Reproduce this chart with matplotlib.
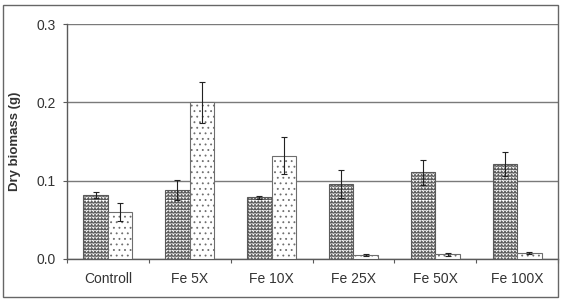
import warnings
import numpy as np
import matplotlib as mpl
mpl.use("Agg")
import matplotlib.pyplot as plt
from matplotlib import hatch as mhatch
from matplotlib.path import Path
from matplotlib.patches import Rectangle

warnings.filterwarnings("ignore")

# =============================================================================
# Data
# =============================================================================
categories = ["Controll", "Fe 5X", "Fe 10X", "Fe 25X", "Fe 50X", "Fe 100X"]
dark_vals = [0.082, 0.088, 0.079, 0.096, 0.111, 0.121]
dark_err = [0.004, 0.013, 0.002, 0.018, 0.016, 0.015]
light_vals = [0.060, 0.200, 0.132, 0.005, 0.006, 0.008]
light_err = [0.012, 0.026, 0.024, 0.001, 0.002, 0.001]
yticks = [0.0, 0.1, 0.2, 0.3]


# =============================================================================
# Zigzag hatch ('z') to mimic the wavy fill
# =============================================================================
class ZigzagHatch(mhatch.HatchPatternBase):
    ROWS = 30
    TEETH = 30

    def __init__(self, hatch, density):
        self.on = hatch.count("z") > 0
        self.num_vertices = self.ROWS * (2 * self.TEETH + 1) if self.on else 0

    def set_vertices_and_codes(self, vertices, codes):
        per_row = 2 * self.TEETH + 1
        xs = np.linspace(0, 1, per_row)
        amp = 0.75 / self.ROWS
        for i in range(self.ROWS):
            y0 = i / self.ROWS
            ys = y0 + np.where(np.arange(per_row) % 2 == 1, amp, 0.0)
            sl = slice(i * per_row, (i + 1) * per_row)
            vertices[sl, 0] = xs
            vertices[sl, 1] = ys
            codes[sl] = Path.LINETO
            codes[i * per_row] = Path.MOVETO


mhatch._hatch_types.append(ZigzagHatch)

# =============================================================================
# Style
# =============================================================================
mpl.rcParams["font.family"] = ["Liberation Sans", "DejaVu Sans"]
mpl.rcParams["hatch.linewidth"] = 0.6
TXT = "#333333"
GRID = "#7a7a7a"
EDGE = "#5a5a5a"
FS = 10

W, H = 565, 302
fig = plt.figure(figsize=(W / 100, H / 100), dpi=100)
ax = fig.add_axes([67 / W, 43 / H, 491 / W, 235 / H])

x = np.arange(len(categories))
bw = 0.3

ax.bar(x - bw / 2, dark_vals, bw, color="white", edgecolor=EDGE,
       hatch="z", linewidth=0.8, zorder=3)
ax.bar(x + bw / 2, light_vals, bw, color="white", edgecolor="#6e6e6e",
       hatch="...", linewidth=0.8, zorder=3)
ax.errorbar(x - bw / 2, dark_vals, yerr=dark_err, fmt="none", ecolor="#222222",
            elinewidth=0.8, capsize=2.2, capthick=0.8, zorder=4)
ax.errorbar(x + bw / 2, light_vals, yerr=light_err, fmt="none", ecolor="#222222",
            elinewidth=0.8, capsize=2.2, capthick=0.8, zorder=4)

# =============================================================================
# Axes
# =============================================================================
ax.set_xlim(-0.5, len(categories) - 0.5)
ax.set_ylim(0, 0.3)
ax.set_yticks(yticks)
ax.set_yticklabels([f"{v:.1f}" for v in yticks])
ax.set_xticks(x)
ax.set_xticklabels(categories)
ax.set_xticks(np.arange(len(categories) + 1) - 0.5, minor=True)

ax.tick_params(axis="x", which="major", length=0, pad=9.5, labelsize=FS, colors=TXT)
ax.tick_params(axis="x", which="minor", length=3, width=0.8, color=EDGE)
ax.tick_params(axis="y", length=3, width=0.8, color=EDGE, pad=5,
               labelsize=FS, labelcolor=TXT)

ax.set_ylabel("Dry biomass (g)", fontsize=9.5, fontweight="bold", color=TXT)
ax.yaxis.set_label_coords(-0.093, 0.5)

ax.grid(True, axis="y", color=GRID, linewidth=1.0, zorder=0)
ax.set_axisbelow(True)

for s in ["top", "right"]:
    ax.spines[s].set_visible(False)
for s in ["left", "bottom"]:
    ax.spines[s].set_color(EDGE)
    ax.spines[s].set_linewidth(1.0)

# outer frame
fig.add_artist(Rectangle((3 / W, 5 / H), 555 / W, 292 / H, transform=fig.transFigure,
                         fill=False, edgecolor="#666666", linewidth=1.0))

fig.savefig("out.png", dpi=100)
